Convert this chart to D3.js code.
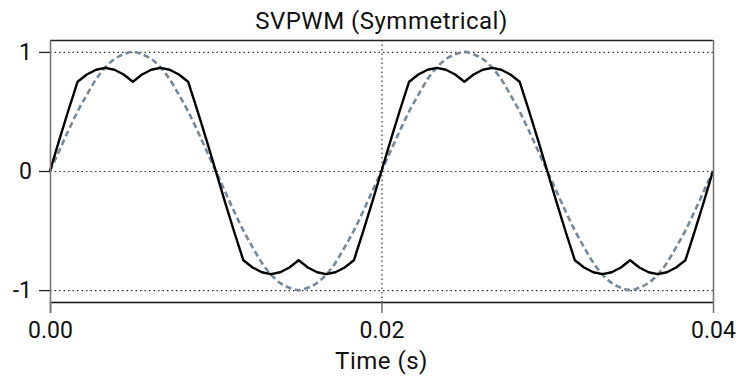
<!DOCTYPE html>
<html>
<head>
<meta charset="utf-8">
<script src="https://cdnjs.cloudflare.com/ajax/libs/d3/7.8.5/d3.min.js"></script>
<style>
  body { margin: 0; background: white; }
  text { font-family: Roboto, "DejaVu Sans", sans-serif; fill: #111; }
</style>
</head>
<body>
<script>
// time samples every 1/1800 s (10 degrees of a 50 Hz cycle), two cycles
var time = d3.range(0, 73).map(function (i) { return i / 1800; });

// black: SVPWM reference
var halfSvpwm = [0, 0.26, 0.51, 0.75, 0.81, 0.85, 0.866, 0.85, 0.81, 0.75,
                 0.81, 0.85, 0.866, 0.85, 0.81, 0.75, 0.51, 0.26];
// grey dashed: plain sine reference
var halfSine = [0, 0.17, 0.34, 0.5, 0.64, 0.77, 0.87, 0.94, 0.98, 1,
                0.98, 0.94, 0.87, 0.77, 0.64, 0.5, 0.34, 0.17];

var svpwm = halfSvpwm.concat(halfSvpwm.map(function (v) { return v === 0 ? 0 : -v; }));
svpwm = svpwm.concat(svpwm).concat([0]);
var sine = halfSine.concat(halfSine.map(function (v) { return v === 0 ? 0 : -v; }));
sine = sine.concat(sine).concat([0]);

var xTicks = [0, 0.02, 0.04];
var yTicks = [-1, 0, 1];

var width = 739, height = 376;
var mLeft = 50, mRight = 713, mTop = 40, mBottom = 302;

var svg = d3.select("body").append("svg")
    .attr("width", width)
    .attr("height", height);

var x = d3.scaleLinear().domain([0, 0.04]).range([mLeft, mRight]);
var y = d3.scaleLinear().domain([-1.1, 1.1]).range([mBottom, mTop]);

// grid
svg.append("g").selectAll("line")
    .data(yTicks).enter().append("line")
    .attr("x1", mLeft).attr("x2", mRight)
    .attr("y1", d => y(d) + 0.5).attr("y2", d => y(d) + 0.5)
    .attr("stroke", "#333").attr("stroke-width", 1.2)
    .attr("stroke-dasharray", "1.5,3");
svg.append("line")
    .attr("x1", x(0.02) + 0.5).attr("x2", x(0.02) + 0.5)
    .attr("y1", mTop).attr("y2", mBottom)
    .attr("stroke", "#333").attr("stroke-width", 1.2)
    .attr("stroke-dasharray", "1.5,3");

// curves
svg.append("path")
    .datum(sine)
    .attr("fill", "none")
    .attr("stroke", "#778899")
    .attr("stroke-width", 2.6)
    .attr("stroke-dasharray", "6,3.5")
    .attr("d", d3.line().x((d, i) => x(time[i])).y(d => y(d)).curve(d3.curveMonotoneX));

svg.append("path")
    .datum(svpwm)
    .attr("fill", "none")
    .attr("stroke", "#000")
    .attr("stroke-width", 2.4)
    .attr("stroke-linejoin", "round")
    .attr("d", d3.line().x((d, i) => x(time[i])).y(d => y(d)));

// frame
svg.append("line").attr("x1", mLeft).attr("x2", mRight)
    .attr("y1", mTop + 0.5).attr("y2", mTop + 0.5)
    .attr("stroke", "#222").attr("stroke-width", 1.3);
svg.append("line").attr("x1", mLeft).attr("x2", mRight)
    .attr("y1", mBottom + 0.5).attr("y2", mBottom + 0.5)
    .attr("stroke", "#111").attr("stroke-width", 1.3);
svg.append("line").attr("x1", mRight + 0.5).attr("x2", mRight + 0.5)
    .attr("y1", mTop).attr("y2", mBottom)
    .attr("stroke", "#777").attr("stroke-width", 1.6);

// axes
var yAxis = d3.axisLeft(y).tickValues(yTicks).tickSize(11).tickPadding(7)
    .tickFormat(d => String(d));
var yg = svg.append("g").attr("transform", "translate(" + mLeft + ",0)").call(yAxis);
yg.select(".domain").remove();
yg.append("line").attr("x1", 0.5).attr("x2", 0.5)
    .attr("y1", mTop).attr("y2", mBottom + 11)
    .attr("stroke", "#777").attr("stroke-width", 1.6);

var xAxis = d3.axisBottom(x).tickValues(xTicks).tickSize(11).tickPadding(9)
    .tickFormat(d3.format(".2f"));
var xg = svg.append("g").attr("transform", "translate(0," + mBottom + ")").call(xAxis);
xg.select(".domain").remove();

svg.selectAll(".tick line").attr("stroke", "#222").attr("stroke-width", 1.3);
xg.selectAll(".tick line").attr("stroke", "#777").attr("stroke-width", 1.6);
svg.selectAll(".tick text").style("font-size", "23px").attr("fill", "#111")
    .style("font-family", "Roboto, 'DejaVu Sans', sans-serif");

// labels
svg.append("text")
    .attr("x", (mLeft + mRight) / 2).attr("y", 29)
    .attr("text-anchor", "middle")
    .style("font-size", "24px")
    .style("letter-spacing", "0.5px")
    .text("SVPWM (Symmetrical)");
svg.append("text")
    .attr("x", (mLeft + mRight) / 2).attr("y", 369)
    .attr("text-anchor", "middle")
    .style("font-size", "24px")
    .style("letter-spacing", "0.5px")
    .text("Time (s)");
</script>
</body>
</html>
